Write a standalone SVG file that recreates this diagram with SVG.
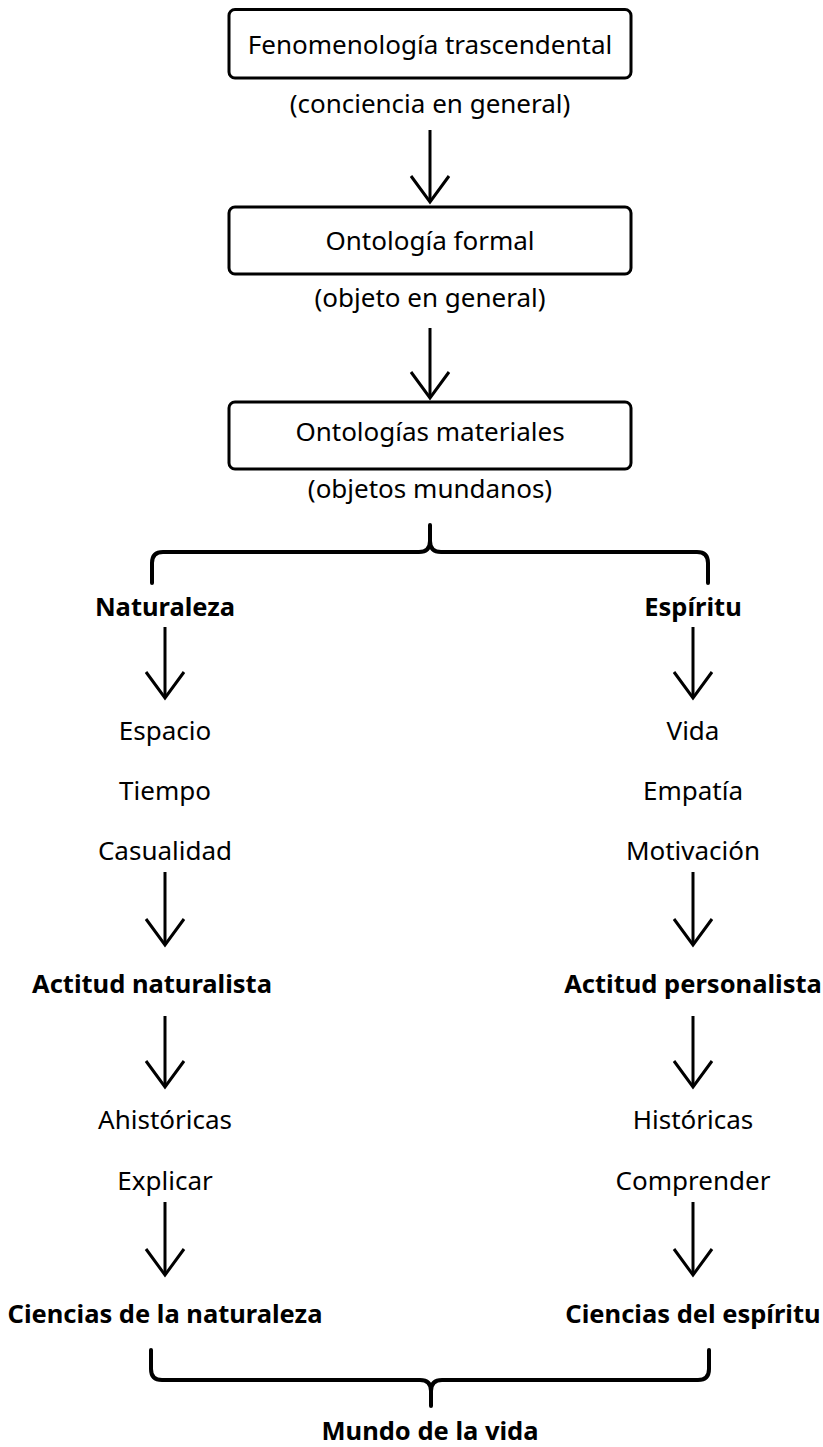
<svg xmlns="http://www.w3.org/2000/svg" width="823" height="1447" viewBox="0 0 823 1447">
<style>
text{font-family:"Noto Sans","Open Sans","Liberation Sans",sans-serif;fill:#000;text-anchor:middle}
.r{font-size:26px}
.b{font-size:25.5px;font-weight:bold}
.box{fill:#fff;stroke:#000;stroke-width:3}
.c line{stroke:#000;stroke-width:3;marker-end:url(#ah)}
.brace{fill:none;stroke:#000;stroke-width:4;stroke-linecap:round;stroke-linejoin:round}
</style>
<defs>
<marker id="ah" markerUnits="userSpaceOnUse" viewBox="-30 -25 36 50" refX="0" refY="0" markerWidth="36" markerHeight="50" orient="auto" overflow="visible">
<path d="M-26,-19 L0,0 L-26,19" fill="none" stroke="#000" stroke-width="3"/>
</marker>
</defs>
<rect width="823" height="1447" fill="#fff"/>
<g id="n1"><rect class="box" x="229" y="9.5" width="402" height="68.5" rx="6"/><text class="r" x="430" y="54">Fenomenología trascendental</text></g>
<g id="n1s"><text class="r" x="430" y="113">(conciencia en general)</text></g>
<g id="n2"><rect class="box" x="229" y="207" width="402" height="67" rx="6"/><text class="r" x="430" y="250">Ontología formal</text></g>
<g id="n2s"><text class="r" x="430" y="307">(objeto en general)</text></g>
<g id="n3"><rect class="box" x="229" y="402" width="402" height="67" rx="6"/><text class="r" x="430" y="441">Ontologías materiales</text></g>
<g id="n3s"><text class="r" x="430" y="498">(objetos mundanos)</text></g>
<g id="nat"><text class="b" x="165" y="616">Naturaleza</text></g>
<g id="esp"><text class="b" x="693" y="616">Espíritu</text></g>
<g id="natlist"><text class="r" x="165" y="740">Espacio</text><text class="r" x="165" y="800">Tiempo</text><text class="r" x="165" y="860">Casualidad</text></g>
<g id="esplist"><text class="r" x="693" y="740">Vida</text><text class="r" x="693" y="800">Empatía</text><text class="r" x="693" y="860">Motivación</text></g>
<g id="actnat"><text class="b" x="152" y="993">Actitud naturalista</text></g>
<g id="actper"><text class="b" x="693" y="993">Actitud personalista</text></g>
<g id="ahist"><text class="r" x="165" y="1129">Ahistóricas</text><text class="r" x="165" y="1190">Explicar</text></g>
<g id="hist"><text class="r" x="693" y="1129">Históricas</text><text class="r" x="693" y="1190">Comprender</text></g>
<g id="cnat"><text class="b" x="165" y="1323">Ciencias de la naturaleza</text></g>
<g id="cesp"><text class="b" x="693" y="1323">Ciencias del espíritu</text></g>
<g id="mundo"><text class="b" x="430" y="1440">Mundo de la vida</text></g>
<g id="connectors" class="c">
<line x1="430" y1="130" x2="430" y2="202"/>
<line x1="430" y1="328" x2="430" y2="398"/>
<line x1="165" y1="627" x2="165" y2="698"/>
<line x1="693" y1="627" x2="693" y2="698"/>
<line x1="165" y1="872" x2="165" y2="945"/>
<line x1="693" y1="872" x2="693" y2="945"/>
<line x1="165" y1="1016" x2="165" y2="1087"/>
<line x1="693" y1="1016" x2="693" y2="1087"/>
<line x1="165" y1="1202" x2="165" y2="1275"/>
<line x1="693" y1="1202" x2="693" y2="1275"/>
<path class="brace" d="M152,583 V563 Q152,552 163,552 H419 Q430,552 430,541 V525 M430,541 Q430,552 441,552 H697 Q708,552 708,563 V583"/>
<path class="brace" d="M151,1350 V1369 Q151,1380 162,1380 H420 Q431,1380 431,1391 V1406 M431,1391 Q431,1380 442,1380 H698 Q709,1380 709,1369 V1350"/>
</g>
</svg>
